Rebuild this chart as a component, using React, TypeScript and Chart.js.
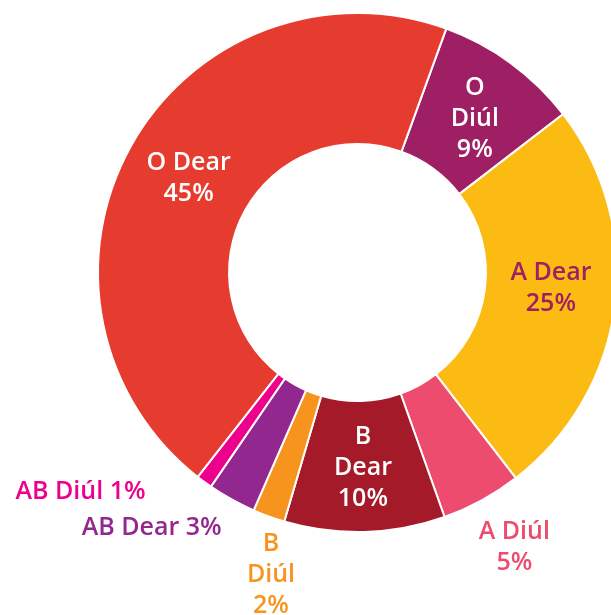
import React, { useEffect, useRef } from "react";
import { Chart, registerables } from "chart.js";

Chart.register(...registerables);

const categories = ["O Diúl", "A Dear", "A Diúl", "B Dear", "B Diúl", "AB Dear", "AB Diúl", "O Dear"];
const values = [9, 25, 5, 10, 2, 3, 1, 45];
const colors = ["#9e1f63", "#fcbb13", "#ee4c6e", "#a51a28", "#f7941d", "#92278f", "#ec008c", "#e63c2f"];
const labelLines = [
  ["O", "Diúl", "9%"],
  ["A Dear", "25%"],
  ["A Diúl", "5%"],
  ["B", "Dear", "10%"],
  ["B", "Diúl", "2%"],
  ["AB Dear 3%"],
  ["AB Diúl 1%"],
  ["O Dear", "45%"],
];
const labelColors = ["#ffffff", "#9e1f63", "#ee4c6e", "#ffffff", "#f7941d", "#92278f", "#ec008c", "#ffffff"];
// radial position as fraction of outer radius (null = middle of ring), angle tweak in degrees
const labelRadius = [null, null, 1.216, null, 1.21, 1.26, 1.36, null];
const labelAngleShift = [1, -3, -1.2, 0, -4, 10, 15.5, 0.5];

const labelPlugin = {
  id: "sliceLabels",
  afterDatasetsDraw(chart: any) {
    const ctx = chart.ctx;
    const meta = chart.getDatasetMeta(0);
    ctx.save();
    ctx.font = "600 25px 'Open Sans'";
    ctx.textAlign = "center";
    ctx.textBaseline = "middle";
    const lh = 31;
    meta.data.forEach((arc: any, i: number) => {
      const { x, y, startAngle, endAngle, innerRadius, outerRadius } = arc.getProps(
        ["x", "y", "startAngle", "endAngle", "innerRadius", "outerRadius"],
        true
      );
      const mid = (startAngle + endAngle) / 2 + (labelAngleShift[i] * Math.PI) / 180;
      const r = labelRadius[i] == null ? (innerRadius + outerRadius) / 2 : outerRadius * (labelRadius[i] as number);
      const cx = x + Math.cos(mid) * r;
      const cy = y + Math.sin(mid) * r;
      const lines = labelLines[i];
      ctx.fillStyle = labelColors[i];
      lines.forEach((t, k) => {
        ctx.fillText(t, cx, cy + 1 + (k - (lines.length - 1) / 2) * lh);
      });
    });
    ctx.restore();
  },
};

export default function App() {
  const ref = useRef<HTMLCanvasElement>(null);
  useEffect(() => {
    if (!ref.current) return;
    const chart = new Chart(ref.current, {
      type: "doughnut",
      data: {
        labels: categories,
        datasets: [
          {
            data: values,
            backgroundColor: colors,
            borderColor: "#ffffff",
            borderWidth: 2,
            hoverOffset: 0,
          },
        ],
      },
      options: {
        responsive: false,
        animation: false,
        rotation: 20,
        cutout: "49.5%",
        layout: { padding: { left: 97, right: 97, top: 12, bottom: 82 } },
        plugins: { legend: { display: false }, tooltip: { enabled: false } },
      },
      plugins: [labelPlugin],
    });
    return () => chart.destroy();
  }, []);
  return (
    <div
      style={{
        position: "fixed",
        left: 0,
        top: 0,
        width: 611,
        height: 615,
        overflow: "hidden",
        background: "#ffffff",
      }}
    >
      <canvas ref={ref} width={715} height={615} style={{ display: "block" }} />
    </div>
  );
}
